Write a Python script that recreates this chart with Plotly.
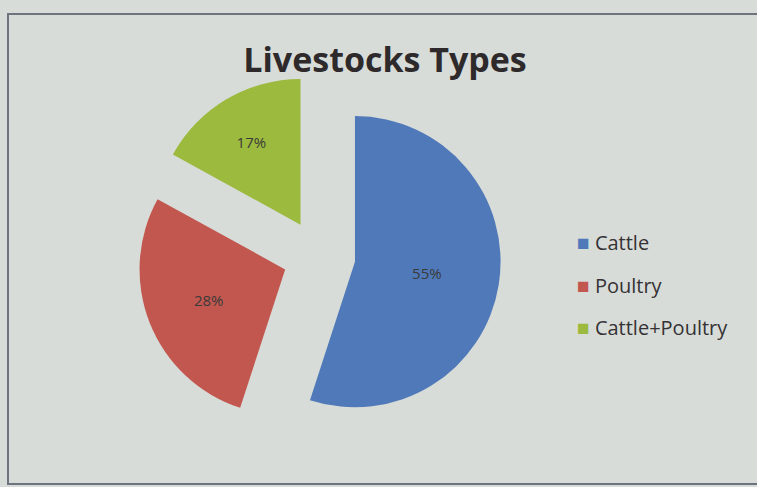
import plotly.graph_objects as go

categories = ["Cattle", "Poultry", "Cattle+Poultry"]
values = [55, 28, 17]
colors = ["#4f79b8", "#c2574f", "#9cba3e"]
title_text = "Livestocks Types"

W, H = 757, 487
cx, cy = 319, 256      # pie centre in pixels (from top-left)
half = 182             # half size of pie domain in pixels

fig = go.Figure()
fig.add_trace(go.Pie(
    labels=categories,
    values=values,
    sort=False,
    direction="clockwise",
    rotation=0,
    pull=[0.25, 0.25, 0.25],
    marker=dict(colors=colors, line=dict(width=0)),
    textinfo="percent",
    textposition="inside",
    insidetextorientation="horizontal",
    textfont=dict(family="Open Sans", size=15, color="#3a3a3a"),
    domain=dict(x=[(cx - half) / W, (cx + half) / W],
                y=[1 - (cy + half) / H, 1 - (cy - half) / H]),
    showlegend=False,
    hoverinfo="label+percent",
))

annotations = []
legend_y = [242, 285, 327]
for name, col, yy in zip(categories, colors, legend_y):
    annotations.append(dict(
        x=575 / W, y=1 - yy / H, xref="paper", yref="paper",
        xanchor="left", yanchor="middle", showarrow=False,
        text=f"<span style='color:{col};font-size:21px'>■</span> {name}",
        font=dict(family="Open Sans", size=20, color="#353235"),
    ))

fig.update_layout(
    width=W, height=H,
    margin=dict(l=0, r=0, t=0, b=0),
    paper_bgcolor="#d8dcd8",
    plot_bgcolor="#d8dcd8",
    title=dict(text=f"<b>{title_text}</b>", x=385 / W, xanchor="center",
               y=1 - 60 / H, yanchor="middle",
               font=dict(family="Open Sans", size=34, color="#2e2a2c")),
    annotations=annotations,
    shapes=[dict(type="rect", xref="paper", yref="paper",
                 x0=8 / W, x1=1.05, y0=1 - 484 / H, y1=1 - 14 / H,
                 line=dict(color="#6e747e", width=2))],
)

fig.write_html("out.html")
